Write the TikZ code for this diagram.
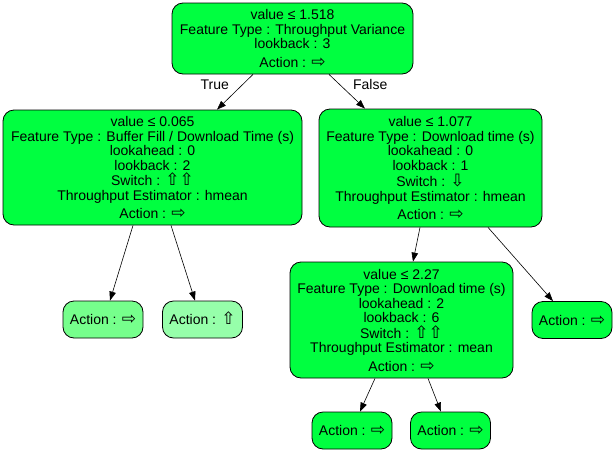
\documentclass[tikz,border=0pt]{standalone}
\usepackage{fontspec}
\setmainfont{Liberation Sans}
\newfontfamily\symfont{DejaVu Sans}
\usetikzlibrary{arrows.meta}

\definecolor{splitgreen}{RGB}{0,255,64}
\definecolor{leafgreen}{RGB}{118,255,140}
\definecolor{paleleaf}{RGB}{150,255,170}

\newcommand{\arrright}{\smash{\symfont\fontsize{17}{14.5}\selectfont ⇨}}
\newcommand{\arrup}{\smash{\symfont\fontsize{17}{14.5}\selectfont ⇧}}
\newcommand{\arrdown}{\smash{\symfont\fontsize{17}{14.5}\selectfont ⇩}}

\begin{document}
\begin{tikzpicture}[
    x=1pt, y=-1pt,
    font=\fontsize{14}{14.5}\selectfont,
    box/.style={
        draw,
        rectangle,
        rounded corners=11pt,
        line width=0.8pt,
        fill=splitgreen,
        align=center,
        inner sep=0pt
    },
    splitbox/.style={
        box
    },
    leafbox/.style={
        box,
        minimum width=80pt,
        minimum height=37pt
    },
    arrow/.style={-{Triangle[length=9pt,width=6.5pt]}, line width=0.6pt},
    lbl/.style={inner sep=1pt}
]
\useasboundingbox (0,0) rectangle (616,453);

% Split nodes
\node[splitbox, minimum width=241pt, minimum height=71pt] (root) at (292.5,38.5)
    {value ≤ 1.518\\ Feature Type : Throughput Variance\\ lookback : 3\\[4pt] Action : \arrright};
\node[splitbox, minimum width=299pt, minimum height=115pt] (buffer) at (152.5,167.5)
    {value ≤ 0.065\\ Feature Type : Buffer Fill / Download Time (s)\\ lookahead : 0\\ lookback : 2\\[1pt] Switch : \arrup\arrup\\ Throughput Estimator : hmean\\[4pt] Action : \arrright};
\node[splitbox, minimum width=223pt, minimum height=118pt] (download) at (430.5,168)
    {value ≤ 1.077\\ Feature Type : Download time (s)\\ lookahead : 0\\ lookback : 1\\[2pt] Switch : \arrdown\\ Throughput Estimator : hmean\\[4pt] Action : \arrright};
\node[splitbox, minimum width=223pt, minimum height=116pt] (mean) at (401.5,320)
    {value ≤ 2.27\\ Feature Type : Download time (s)\\ lookahead : 2\\ lookback : 6\\[1pt] Switch : \arrup\arrup\\ Throughput Estimator : mean\\[4pt] Action : \arrright};

% Leaf nodes
\node[leafbox, fill=leafgreen] (leafA) at (103,319.5) {Action : \arrright};
\node[leafbox, fill=paleleaf] (leafB) at (202.5,319.5) {Action : \arrup};
\node[leafbox] (leafC) at (572,320) {Action : \arrright};
\node[leafbox] (leafD) at (352,430.5) {Action : \arrright};
\node[leafbox] (leafE) at (450.5,430.5) {Action : \arrright};

% Edges
\draw[arrow] ([xshift=-39.5pt]root.south) -- ([xshift=64.5pt]buffer.north)
    node[lbl, pos=0.3, left=12pt] {True};
\draw[arrow] ([xshift=36.5pt]root.south) -- ([xshift=-65.5pt]download.north)
    node[lbl, pos=0.3, right=12pt] {False};
\draw[arrow] ([xshift=-19.5pt]buffer.south) -- ([xshift=7pt]leafA.north);
\draw[arrow] ([xshift=18.5pt]buffer.south) -- ([xshift=-7.5pt]leafB.north);
\draw[arrow] ([xshift=-10.5pt]download.south) -- ([xshift=11.5pt]mean.north);
\draw[arrow] ([xshift=57.5pt]download.south) -- ([xshift=-19pt]leafC.north);
\draw[arrow] ([xshift=-26.5pt]mean.south) -- ([xshift=8pt]leafD.north);
\draw[arrow] ([xshift=26.5pt]mean.south) -- ([xshift=-9.5pt]leafE.north);

\end{tikzpicture}
\end{document}
